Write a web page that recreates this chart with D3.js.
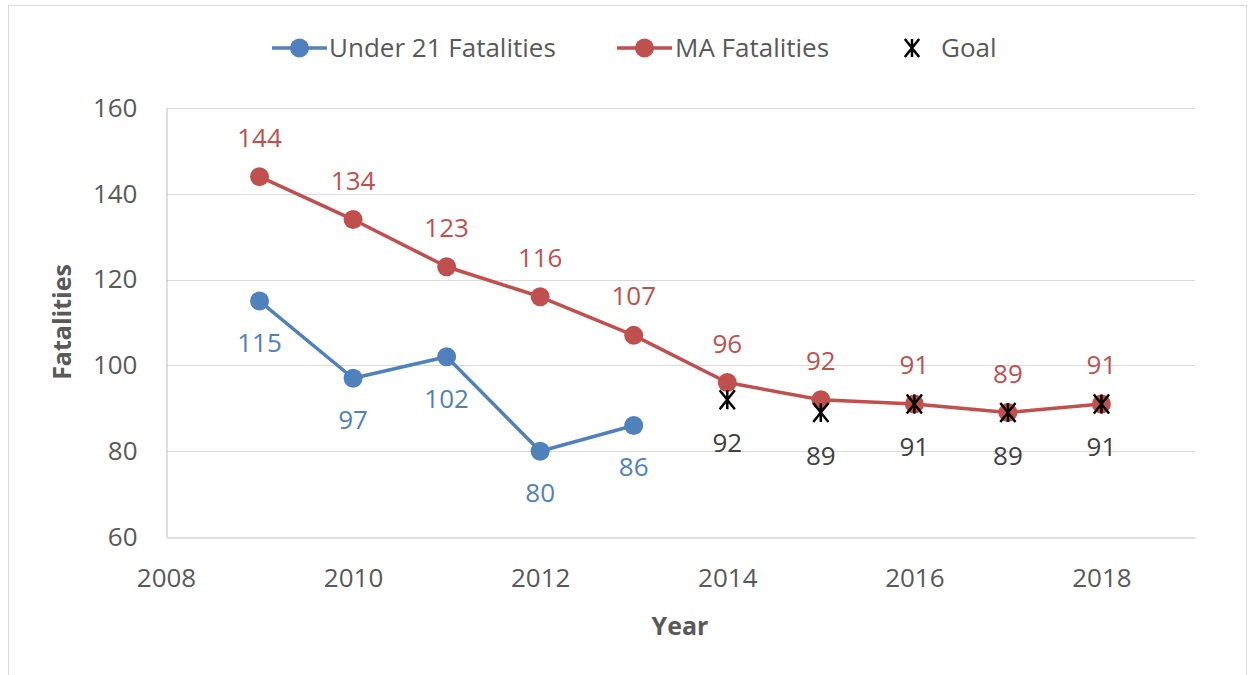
<!DOCTYPE html>
<html>
<head>
<meta charset="utf-8">
<script src="https://cdn.jsdelivr.net/npm/d3@7"></script>
<style>
  body { margin: 0; background: #fff; }
  text { font-family: "Open Sans", "Noto Sans", sans-serif; }
</style>
</head>
<body>
<div id="chart"></div>
<script>
// data
var under21Years = [2009, 2010, 2011, 2012, 2013];
var under21Values = [115, 97, 102, 80, 86];
var maYears = [2009, 2010, 2011, 2012, 2013, 2014, 2015, 2016, 2017, 2018];
var maValues = [144, 134, 123, 116, 107, 96, 92, 91, 89, 91];
var goalYears = [2014, 2015, 2016, 2017, 2018];
var goalValues = [92, 89, 91, 89, 91];
var xTicks = [2008, 2010, 2012, 2014, 2016, 2018];
var yTicks = [60, 80, 100, 120, 140, 160];

var W = 1252, H = 675;
var blue = "#4F81BD", red = "#C0504D";
var fs = "26px";

var svg = d3.select("#chart").append("svg")
  .attr("width", W).attr("height", H);

// outer frame
svg.append("rect")
  .attr("x", 8.5).attr("y", 5.5)
  .attr("width", W - 14).attr("height", H + 10)
  .attr("fill", "none").attr("stroke", "#d9d9d9").attr("stroke-width", 1);

var x = d3.scaleLinear().domain([2008, 2019]).range([166, 1195]);
var y = d3.scaleLinear().domain([60, 160]).range([537, 108]);

// gridlines
svg.append("g")
  .selectAll("line")
  .data(yTicks.filter(function(d) { return d > 60; }))
  .enter().append("line")
    .attr("x1", x(2008)).attr("x2", x(2019))
    .attr("y1", function(d) { return Math.round(y(d)) + 0.5; })
    .attr("y2", function(d) { return Math.round(y(d)) + 0.5; })
    .attr("stroke", "#d9d9d9");

// y axis
var yAxis = svg.append("g")
  .attr("transform", "translate(" + (x(2008) + 0.5) + ",0)")
  .call(d3.axisLeft(y).tickValues(yTicks).tickSize(0).tickPadding(29));
yAxis.select(".domain").attr("stroke", "#bfbfbf");
yAxis.selectAll("text")
  .attr("fill", "#595959").style("font-size", fs);

// x axis
var xAxis = svg.append("g")
  .attr("transform", "translate(0," + (y(60) + 0.5) + ")")
  .call(d3.axisBottom(x).tickValues(xTicks).tickSize(0).tickPadding(31)
    .tickFormat(d3.format("d")));
xAxis.select(".domain").attr("stroke", "#bfbfbf");
xAxis.selectAll("text")
  .attr("fill", "#595959").style("font-size", fs);

// axis titles
svg.append("text")
  .attr("transform", "translate(71,322) rotate(-90)")
  .attr("text-anchor", "middle")
  .attr("fill", "#595959")
  .style("font-size", "25px").style("font-weight", "bold")
  .text("Fatalities");

svg.append("text")
  .attr("x", 680).attr("y", 635)
  .attr("text-anchor", "middle")
  .attr("fill", "#595959")
  .style("font-size", "25px").style("font-weight", "bold")
  .text("Year");

var line = d3.line()
  .x(function(d) { return x(d[0]); })
  .y(function(d) { return y(d[1]); });

function drawSeries(years, values, color, labelDy) {
  var pts = years.map(function(d, i) { return [d, values[i]]; });
  svg.append("path")
    .datum(pts)
    .attr("d", line)
    .attr("fill", "none")
    .attr("stroke", color)
    .attr("stroke-width", 3.5)
    .attr("stroke-linejoin", "round");
  svg.append("g").selectAll("circle")
    .data(pts)
    .enter().append("circle")
      .attr("cx", function(d) { return x(d[0]); })
      .attr("cy", function(d) { return y(d[1]); })
      .attr("r", 9.5)
      .attr("fill", color);
  svg.append("g").selectAll("text")
    .data(pts)
    .enter().append("text")
      .attr("x", function(d) { return x(d[0]); })
      .attr("y", function(d) { return y(d[1]) + labelDy; })
      .attr("text-anchor", "middle")
      .attr("fill", color)
      .style("font-size", fs)
      .text(function(d) { return d[1]; });
}

drawSeries(maYears, maValues, red, -30);
drawSeries(under21Years, under21Values, blue, 51);

// goal asterisks
function star(g, cx, cy, s) {
  var w = s * 0.8;
  g.append("path")
    .attr("d", "M" + (cx - w) + "," + (cy - s) + "L" + (cx + w) + "," + (cy + s) +
      "M" + (cx + w) + "," + (cy - s) + "L" + (cx - w) + "," + (cy + s) +
      "M" + cx + "," + (cy - s) + "L" + cx + "," + (cy + s))
    .attr("stroke", "#000")
    .attr("stroke-width", 2.5)
    .attr("fill", "none");
}
var goalG = svg.append("g");
goalYears.forEach(function(yr, i) {
  star(goalG, x(yr), y(goalValues[i]), 9.5);
});
svg.append("g").selectAll("text")
  .data(goalYears)
  .enter().append("text")
    .attr("x", function(d) { return x(d); })
    .attr("y", function(d, i) { return y(goalValues[i]) + 52; })
    .attr("text-anchor", "middle")
    .attr("fill", "#404040")
    .style("font-size", fs)
    .text(function(d, i) { return goalValues[i]; });

// legend
var legend = svg.append("g").attr("class", "legend");
var legendItems = [
  {name: "Under 21 Fatalities", color: blue, x: 272, tx: 329},
  {name: "MA Fatalities", color: red, x: 617, tx: 675}
];
legendItems.forEach(function(d) {
  legend.append("line")
    .attr("x1", d.x).attr("x2", d.x + 55)
    .attr("y1", 48).attr("y2", 48)
    .attr("stroke", d.color).attr("stroke-width", 3.5);
  legend.append("circle")
    .attr("cx", d.x + 27.5).attr("cy", 48).attr("r", 9.5)
    .attr("fill", d.color);
  legend.append("text")
    .attr("x", d.tx).attr("y", 57)
    .attr("fill", "#595959")
    .style("font-size", fs)
    .text(d.name);
});
star(legend, 912, 48, 9);
legend.append("text")
  .attr("x", 941).attr("y", 57)
  .attr("fill", "#595959")
  .style("font-size", fs)
  .text("Goal");
</script>
</body>
</html>
